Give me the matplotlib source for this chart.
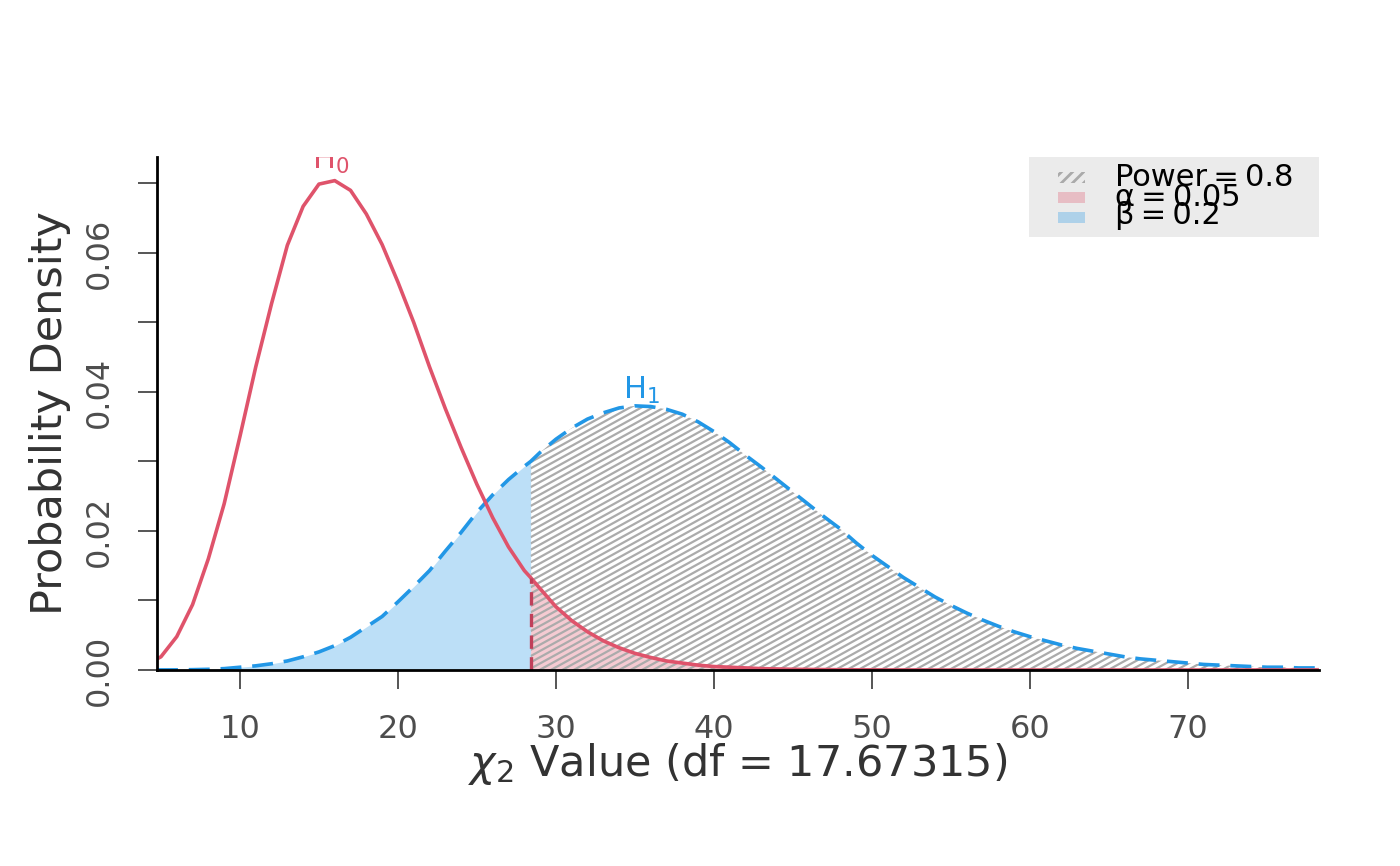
import numpy as np
import matplotlib
matplotlib.use("Agg")
import matplotlib.pyplot as plt
from matplotlib.collections import LineCollection
from matplotlib.patches import Rectangle

# =====================================================
# DATA
# =====================================================

df_value = "17.67315"
crit_value = 28.4

chi_x = [4.75, 5, 6, 7, 8, 9, 10, 11, 12, 13, 14, 15, 16, 17, 18, 19, 20,
         21, 22, 23, 24, 25, 26, 27, 28, 28.4,
         29, 30, 31, 32, 33, 34, 35, 36, 37, 38,
         39, 40, 41, 42, 43, 44, 45, 46, 47, 48,
         49, 50, 51, 52, 53, 54, 55, 56, 57, 58,
         59, 60, 61, 62, 63, 64, 65, 66, 67, 68,
         69, 70, 71, 72, 73, 74, 75, 76, 77, 78, 78.3]

h0_density = [0.0016, 0.0019, 0.0048, 0.0094, 0.0160, 0.0239, 0.0336, 0.0436,
              0.0527, 0.0611, 0.0667, 0.0699, 0.0704, 0.0690, 0.0656, 0.0612,
              0.0558, 0.0500, 0.0436, 0.0376, 0.0320, 0.0267, 0.0219, 0.0177,
              0.0143, 0.0133,
              0.0117, 0.0091, 0.0071, 0.0055, 0.0042, 0.0032, 0.0024, 0.0018, 0.0013, 0.0010,
              0.0007, 0.0005, 0.0004, 0.0003, 0.0002, 0.00015, 0.0001, 0.00008, 0.00006, 0.00004,
              0.00003, 0.00002, 0.00001, 0.00001, 0.00001, 0, 0, 0, 0, 0,
              0, 0, 0, 0, 0, 0, 0, 0, 0, 0,
              0, 0, 0, 0, 0, 0, 0, 0, 0, 0, 0]

h1_density = [0.00001, 0.00001, 0.00002, 0.00005, 0.0001, 0.0002, 0.0004, 0.0006,
              0.0009, 0.0013, 0.0019, 0.0026, 0.0035, 0.0047, 0.0062, 0.0077,
              0.0098, 0.0120, 0.0143, 0.0171, 0.0198, 0.0227, 0.0252, 0.0274,
              0.0293, 0.0300,
              0.0313, 0.0332, 0.0348, 0.0361, 0.0370, 0.0377, 0.0380, 0.0379, 0.0375, 0.0368,
              0.0357, 0.0343, 0.0327, 0.0309, 0.0292, 0.0274, 0.0256, 0.0238, 0.0220, 0.0203,
              0.0183, 0.0165, 0.0149, 0.0133, 0.0119, 0.0105, 0.0093, 0.0082, 0.0072, 0.0063,
              0.0055, 0.0048, 0.0042, 0.0036, 0.0031, 0.0027, 0.0023, 0.0019, 0.0016, 0.0014,
              0.0012, 0.0010, 0.0008, 0.0007, 0.0006, 0.0005, 0.0004, 0.0004, 0.0003, 0.0003,
              0.0003]

legend_labels = ["Power\u2009=\u20090.8", "\u03b1\u2009=\u20090.05", "\u03b2\u2009=\u20090.2"]

x = np.array(chi_x)
h0 = np.array(h0_density)
h1 = np.array(h1_density)
ci = chi_x.index(crit_value)

red = "#DF536B"
blue = "#2297E6"

# =====================================================
# FIGURE
# =====================================================

plt.rcParams["font.family"] = ["DejaVu Sans"]
fig = plt.figure(figsize=(7, 4.33), dpi=200)
ax = fig.add_axes([157 / 1400, 1 - 670 / 866, (1319 - 157) / 1400, (670 - 157) / 866])

# beta region (H1 below critical value)
ax.fill_between(x[:ci + 1], 0, h1[:ci + 1], color=blue, alpha=0.3, lw=0)

# power region, hatched
power_poly = ax.fill_between(x[ci:], 0, h1[ci:], facecolor="none", lw=0)
slope = 0.00125
offsets = np.arange(-0.07, 0.045, 0.0009)
segs = [[(x[ci], c), (x[-1], c + slope * (x[-1] - x[ci]))] for c in offsets]
hatch = LineCollection(segs, colors="#ABABAB", linewidths=0.8)
ax.add_collection(hatch)
hatch.set_clip_path(power_poly.get_paths()[0], ax.transData)

# alpha region (H0 above critical value)
ax.fill_between(x[ci:], 0, h0[ci:], color=red, alpha=0.3, lw=0)

# curves
ax.plot(x, h1, color=blue, lw=1.3, dashes=(5.8, 3.0))
ax.plot(x, h0, color=red, lw=1.3)
ax.plot([crit_value, crit_value], [0, h0[ci]], color="#C0405A", lw=1.2, dashes=(4, 2.5))

ax.text(15.76, 0.07205, "H$_0$", color=red, fontsize=11, ha="center",
        va="baseline", clip_on=True)
ax.text(35.4, 0.0390, "H$_1$", color=blue, fontsize=11, ha="center", va="baseline")

ax.set_xlim(4.75, 78.3)
ax.set_ylim(0, 0.0738)

ax.spines["top"].set_visible(False)
ax.spines["right"].set_visible(False)
ax.spines["left"].set_linewidth(1.0)
ax.spines["bottom"].set_linewidth(1.0)

ax.set_xticks([10, 20, 30, 40, 50, 60, 70])
ax.set_yticks([0, 0.01, 0.02, 0.03, 0.04, 0.05, 0.06, 0.07])
ax.set_yticklabels(["0.00", "", "0.02", "", "0.04", "", "0.06", ""])
ax.tick_params(axis="both", length=7, width=0.7, color="#555555",
               labelcolor="#4D4D4D", labelsize=11.5)
ax.tick_params(axis="x", pad=9)
ax.tick_params(axis="y", pad=8)
for lab in ax.get_yticklabels():
    lab.set_rotation(90)
    lab.set_va("center")

fig.text(50 / 1400, 1 - 413 / 866, "Probability Density", rotation=90,
         ha="center", va="center", fontsize=15.5, color="#333333")
fig.text(738 / 1400, 1 - 764 / 866, r"$\chi_2$ Value (df = " + df_value + ")",
         ha="center", va="center", fontsize=15.5, color="#333333")

# legend box drawn by hand (overlapping lines like the original)
fig.add_artist(Rectangle((1029 / 1400, 1 - 237 / 866), 290 / 1400, 80 / 866,
                         transform=fig.transFigure, facecolor="#EBEBEB",
                         edgecolor="none", zorder=2))
patch_y = [183, 203, 223]
text_y = [178, 198, 216]
fig.add_artist(Rectangle((1058 / 1400, 1 - patch_y[0] / 866), 27 / 1400, 11 / 866,
                         transform=fig.transFigure, facecolor="#EBEBEB",
                         edgecolor="#AAAAAA", hatch="//////", lw=0, zorder=3))
fig.add_artist(Rectangle((1058 / 1400, 1 - patch_y[1] / 866), 27 / 1400, 11 / 866,
                         transform=fig.transFigure, facecolor=red, alpha=0.3,
                         edgecolor="none", zorder=3))
fig.add_artist(Rectangle((1058 / 1400, 1 - patch_y[2] / 866), 27 / 1400, 11 / 866,
                         transform=fig.transFigure, facecolor=blue, alpha=0.3,
                         edgecolor="none", zorder=3))
for lab, ty in zip(legend_labels, text_y):
    fig.text(1115 / 1400, 1 - ty / 866, lab, ha="left", va="center",
             fontsize=11, color="black", zorder=4)

fig.savefig("out.png", dpi=200)
